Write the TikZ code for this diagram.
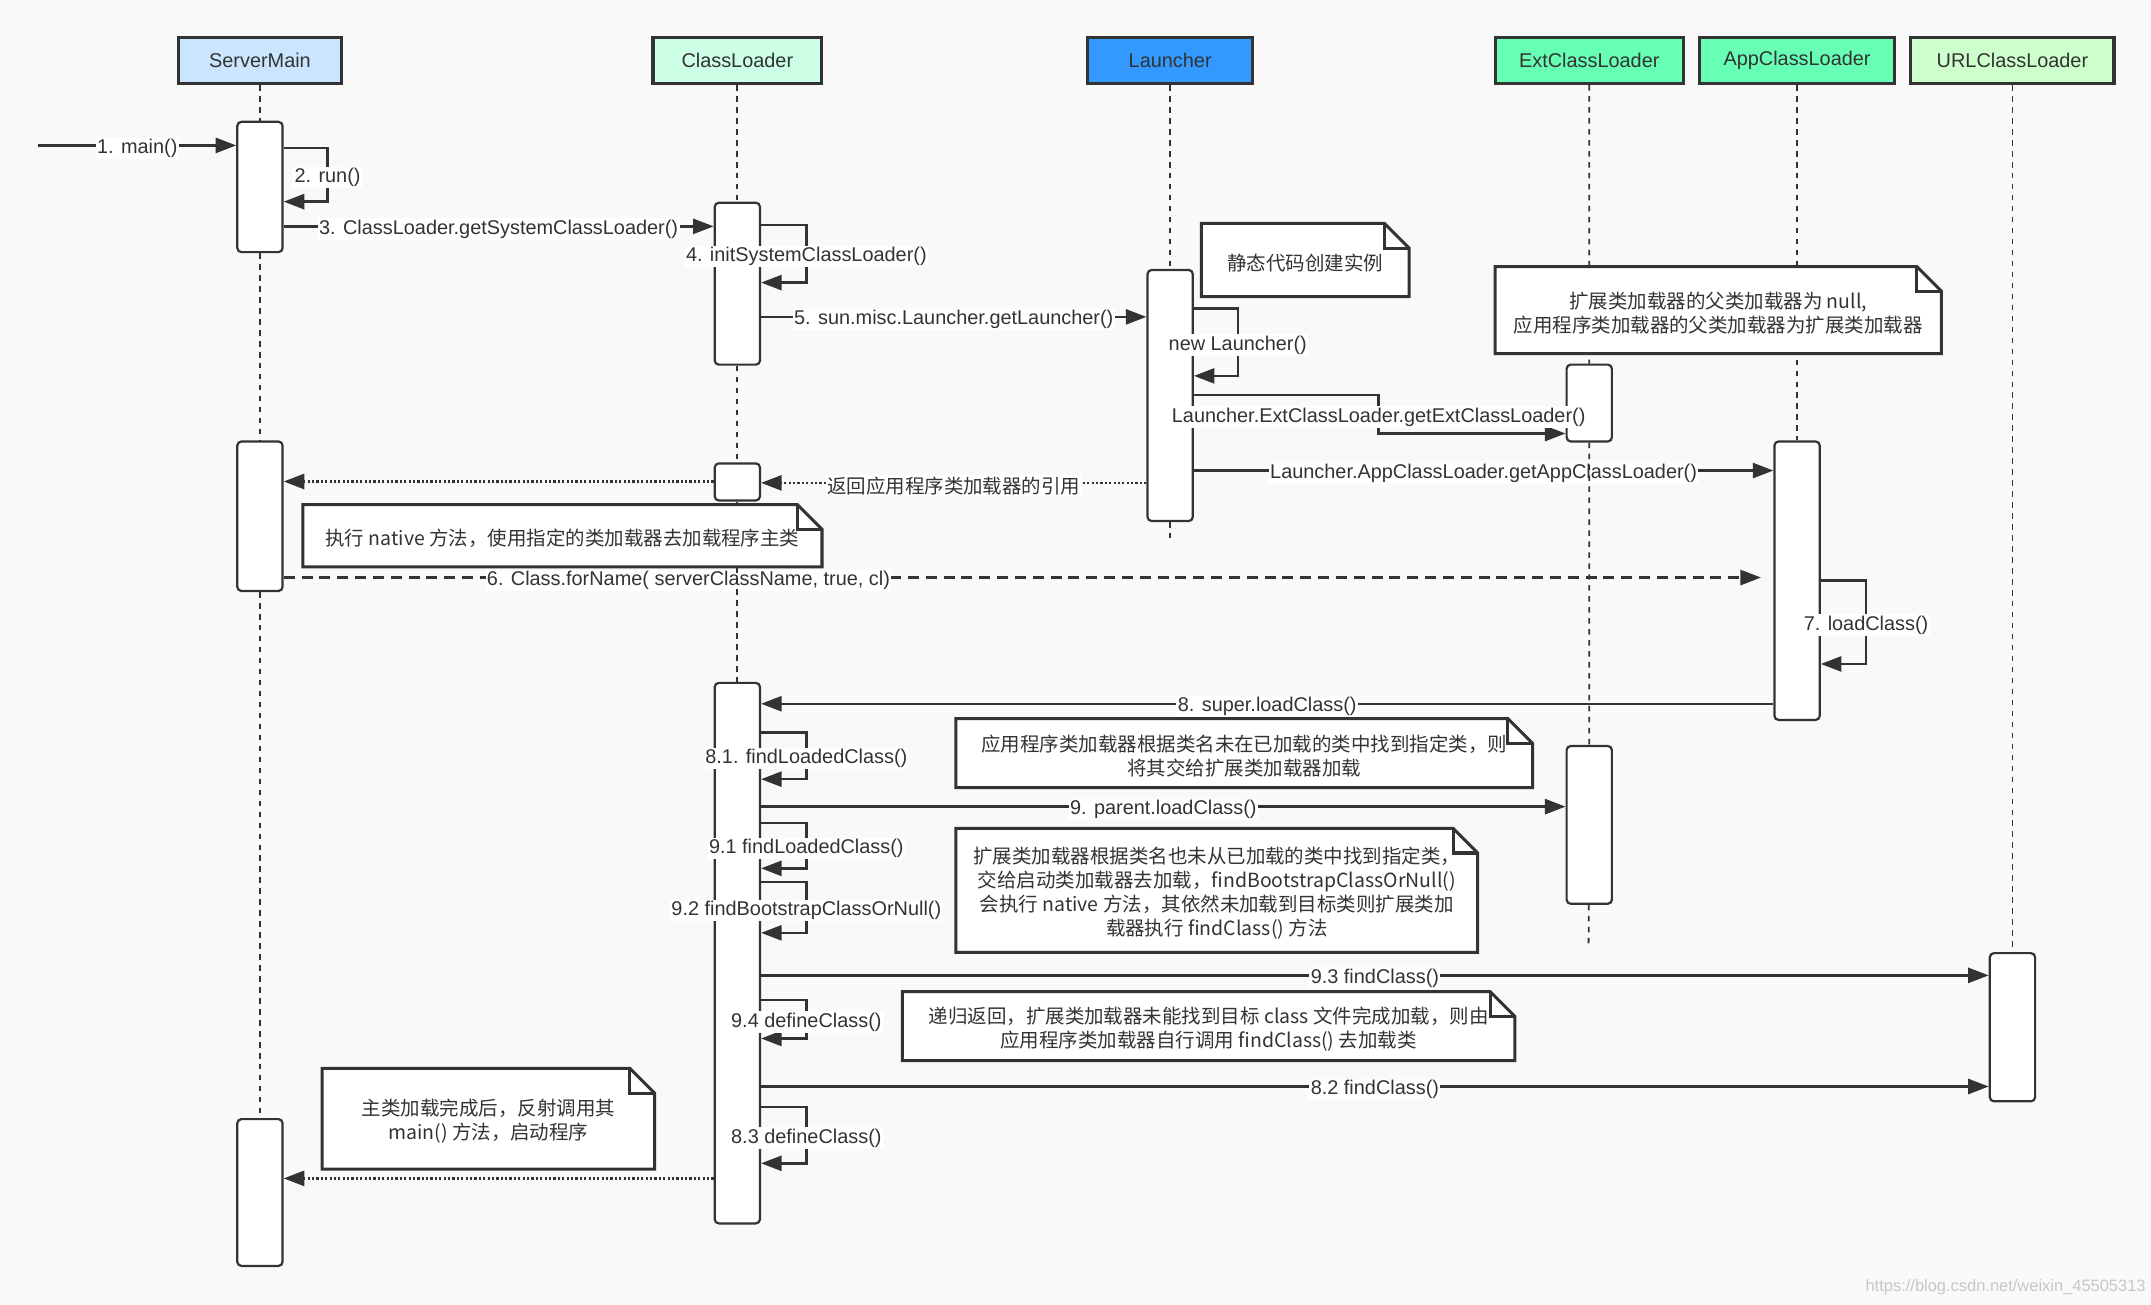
\documentclass[tikz,border=0pt]{standalone}
\usepackage{fontspec}
\setmainfont{Liberation Sans}
\newfontfamily\cjk{Noto Sans CJK SC}
\usepackage{xcolor}
\usepackage{tikz}
\usetikzlibrary{arrows.meta}

\definecolor{ink}{HTML}{333333}
\definecolor{paper}{HTML}{F9F9F9}
\definecolor{smblue}{HTML}{CCE5FF}
\definecolor{clmint}{HTML}{CCFFE6}
\definecolor{lablue}{HTML}{3399FF}
\definecolor{ldgreen}{HTML}{66FFB3}
\definecolor{urlgreen}{HTML}{CCFFCC}

\newcommand{\labfont}{\fontsize{14.5}{17.5}\selectfont}
\newcommand{\notefont}{\fontsize{14.2}{17.5}\cjk}
\newcommand{\foldnote}[1]{%
  \fill[paper] ([xshift=-18pt]#1.north east) -- (#1.north east) -- ([yshift=-18pt]#1.north east) -- cycle;
  \draw[notebd] (#1.north west) -- ([xshift=-18pt]#1.north east) -- ([yshift=-18pt]#1.north east) -- (#1.south east) -- (#1.south west) -- cycle;
  \draw[notebd] ([xshift=-18pt]#1.north east) |- ([yshift=-18pt]#1.north east);}

\begin{document}
\begin{tikzpicture}[x=1pt, y=-1pt,
        font=\labfont,
        >={Triangle[length=15pt,width=11pt]},
        head/.style={draw=ink, line width=2.2pt, minimum height=34pt, inner sep=0pt, text=ink},
        act/.style={draw=ink, fill=white, line width=1.6pt, rounded corners=3pt, minimum width=33pt, inner sep=0pt, anchor=north},
        life/.style={draw=ink, line width=1.3pt, dash pattern=on 4pt off 4pt},
        call/.style={draw=ink, line width=1.8pt, ->},
        ret/.style={draw=ink, line width=1.8pt, dash pattern=on 1.6pt off 1.6pt, ->},
        async/.style={draw=ink, line width=1.8pt, dash pattern=on 8pt off 5pt, ->},
        lbl/.style={fill=white, inner sep=1pt, text=ink, yshift=-2pt},
        note/.style={fill=white, inner sep=0pt, align=center, text=ink, font=\notefont},
        notetext/.style={yshift=-2pt, align=center, text=ink, font=\notefont},
        notebd/.style={draw=ink, line width=2.2pt, line join=miter}
    ]
        \fill[paper] (0,0) rectangle (1568,951);
        \useasboundingbox (0,0) rectangle (1568,951);

        \node[head, fill=smblue, minimum width=119pt] (sm) at (189.5,44) {ServerMain};
        \node[head, fill=clmint, minimum width=123pt] (cl) at (537.5,44) {ClassLoader};
        \node[head, fill=lablue, minimum width=120pt] (la) at (853,44) {Launcher};
        \node[head, fill=ldgreen, minimum width=137pt] (ex) at (1158.5,44) {ExtClassLoader};
        \node[head, fill=ldgreen, minimum width=142pt] (ap) at (1310,44) {AppClassLoader};
        \node[head, fill=urlgreen, minimum width=148pt] (ur) at (1467,44) {URLClassLoader};

        \node[act, minimum height=95pt] (sm1) at (sm.south |- 0,88) {};
        \node[act, minimum height=109pt] (sm2) at (sm.south |- 0,321) {};
        \node[act, minimum height=107pt] (sm3) at (sm.south |- 0,815) {};
        \node[act, minimum height=118pt] (cl1) at (cl.south |- 0,147) {};
        \node[act, minimum height=27pt] (cl2) at (cl.south |- 0,337) {};
        \node[act, minimum height=394pt] (cl3) at (cl.south |- 0,497) {};
        \node[act, minimum height=183pt] (la1) at (la.south |- 0,196) {};
        \node[act, minimum height=56pt] (ex1) at (ex.south |- 0,265) {};
        \node[act, minimum height=115pt] (ex2) at (ex.south |- 0,543) {};
        \node[act, minimum height=203pt] (ap1) at (ap.south |- 0,321) {};
        \node[act, minimum height=108pt] (ur1) at (ur.south |- 0,694) {};

        \coordinate (entry) at (28,106);
        \coordinate (laend) at (853,392);
        \coordinate (exend) at (1158,690);
        \path (ap1.west |- 0,421) ++(-9,0) coordinate (fnend);

        \draw[call] (entry) -- node[lbl]{1. main()} (sm1.west |- entry);
        \draw[call] (sm1.east |- 0,108) -- ++(32,0) |- node[lbl, pos=0.25]{2. run()} (sm1.east |- 0,147);
        \draw[call] (sm1.east |- 0,165) -- node[lbl]{3. ClassLoader.getSystemClassLoader()} (cl1.west |- 0,165);
        \draw[call] (cl1.east |- 0,164) -- ++(33,0) |- node[lbl, pos=0.25]{4. initSystemClassLoader()} (cl1.east |- 0,206);
        \draw[call] (cl1.east |- 0,231) -- node[lbl]{5. sun.misc.Launcher.getLauncher()} (la1.west |- 0,231);
        \draw[call] (la1.east |- 0,225) -- ++(32,0) |- node[lbl, pos=0.25]{new Launcher()} (la1.east |- 0,274);
        \draw[call] (la1.east |- 0,288) -| node[lbl, pos=0.75]{Launcher.ExtClassLoader.getExtClassLoader()} (1005,316) -- (ex1.west |- 0,316);
        \draw[call] (la1.east |- 0,343) -- node[lbl]{Launcher.AppClassLoader.getAppClassLoader()} (ap1.west |- 0,343);
        \draw[ret] (la1.west |- 0,352) -- node[lbl, font=\notefont]{返回应用程序类加载器的引用} (cl2.east |- 0,352);
        \draw[ret] (cl2.west |- 0,351) -- (sm2.east |- 0,351);
        \draw[async] (sm2.east |- 0,421) -- node[lbl, pos=0.274]{6. Class.forName( serverClassName, true, cl)} (fnend);
        \draw[call] (ap1.east |- 0,423) -- ++(33,0) |- node[lbl, pos=0.25]{7. loadClass()} (ap1.east |- 0,484);
        \draw[call] (ap1.west |- 0,513) -- node[lbl]{8. super.loadClass()} (cl3.east |- 0,513);
        \draw[call] (cl3.east |- 0,534) -- ++(33,0) |- node[lbl, pos=0.25]{8.1. findLoadedClass()} (cl3.east |- 0,568);
        \draw[call] (cl3.east |- 0,588) -- node[lbl]{9. parent.loadClass()} (ex2.west |- 0,588);
        \draw[call] (cl3.east |- 0,600) -- ++(33,0) |- node[lbl, pos=0.25]{9.1 findLoadedClass()} (cl3.east |- 0,633);
        \draw[call] (cl3.east |- 0,643) -- ++(33,0) |- node[lbl, pos=0.25]{9.2 findBootstrapClassOrNull()} (cl3.east |- 0,680);
        \draw[call] (cl3.east |- 0,711) -- node[lbl]{9.3 findClass()} (ur1.west |- 0,711);
        \draw[call] (cl3.east |- 0,729) -- ++(33,0) |- node[lbl, pos=0.25]{9.4 defineClass()} (cl3.east |- 0,757);
        \draw[call] (cl3.east |- 0,792) -- node[lbl]{8.2 findClass()} (ur1.west |- 0,792);
        \draw[call] (cl3.east |- 0,807) -- ++(33,0) |- node[lbl, pos=0.25]{8.3 defineClass()} (cl3.east |- 0,848);
        \draw[ret] (cl3.west |- 0,859) -- (sm3.east |- 0,859);

        \draw[life] (sm) -- (sm1) (sm1) -- (sm2) (sm2) -- (sm3);
        \draw[life] (cl) -- (cl1) (cl1) -- (cl2) (cl2) -- (cl3);
        \draw[life] (la) -- (la1) (la1) -- (laend);
        \draw[life] (ex) -- (ex1) (ex1) -- (ex2) (ex2) -- (exend);
        \draw[life] (ap) -- (ap1);
        \draw[life] (ur) -- (ur1);

        \node[note, minimum width=151pt, minimum height=53pt] (n1) at (951.5,189.5) {};
        \foldnote{n1}
        \node[notetext] (t1) at (n1) {静态代码创建实例};
        \node[note, minimum width=325pt, minimum height=63pt] (n2) at (1252.5,226) {};
        \foldnote{n2}
        \node[notetext] (t2) at (n2) {扩展类加载器的父类加载器为 null,\\应用程序类加载器的父类加载器为扩展类加载器};
        \node[note, minimum width=378pt, minimum height=45pt] (n3) at (410,390.5) {};
        \foldnote{n3}
        \node[notetext] (t3) at (n3) {执行 native 方法，使用指定的类加载器去加载程序主类};
        \node[note, minimum width=420pt, minimum height=50pt] (n4) at (907,549) {};
        \foldnote{n4}
        \node[notetext] (t4) at (n4) {应用程序类加载器根据类名未在已加载的类中找到指定类，则\\将其交给扩展类加载器加载};
        \node[note, minimum width=380pt, minimum height=90pt] (n5) at (887,649) {};
        \foldnote{n5}
        \node[notetext] (t5) at (n5) {扩展类加载器根据类名也未从已加载的类中找到指定类，\\交给启动类加载器去加载，findBootstrapClassOrNull()\\会执行 native 方法，其依然未加载到目标类则扩展类加\\载器执行 findClass() 方法};
        \node[note, minimum width=446pt, minimum height=50pt] (n6) at (881,748) {};
        \foldnote{n6}
        \node[notetext] (t6) at (n6) {递归返回，扩展类加载器未能找到目标 class 文件完成加载，则由\\应用程序类加载器自行调用 findClass() 去加载类};
        \node[note, minimum width=242pt, minimum height=73pt] (n7) at (356,815.5) {};
        \foldnote{n7}
        \node[notetext] (t7) at (n7) {主类加载完成后，反射调用其\\main() 方法，启动程序};

        \node[text=black!22, font=\fontsize{12}{14}\selectfont] (mark) at (1462,938) {https://blog.csdn.net/weixin\_45505313};
    \end{tikzpicture}
\end{document}
